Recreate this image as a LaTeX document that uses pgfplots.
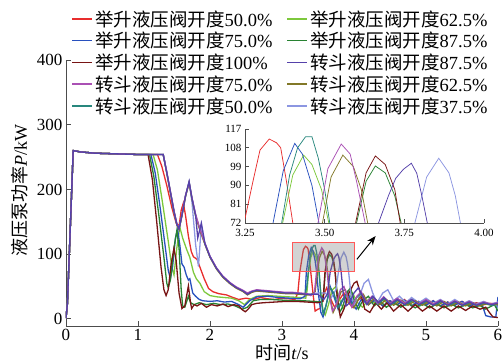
\documentclass[border=0pt]{standalone}
\usepackage{pgfplots}
\pgfplotsset{compat=1.18}
\usepackage{pgfplotstable}
\usepackage{fontspec}
\setmainfont{Liberation Serif}
\newfontfamily\cjk{Noto Sans CJK SC}
\usetikzlibrary{arrows.meta}

\definecolor{cRed}{RGB}{232,45,45}
\definecolor{cLGreen}{RGB}{125,200,60}
\definecolor{cBlue}{RGB}{40,80,190}
\definecolor{cDGreen}{RGB}{40,130,50}
\definecolor{cDRed}{RGB}{120,20,20}
\definecolor{cIndigo}{RGB}{85,65,170}
\definecolor{cMag}{RGB}{170,80,180}
\definecolor{cOlive}{RGB}{130,120,40}
\definecolor{cTeal}{RGB}{40,135,125}
\definecolor{cLav}{RGB}{140,150,225}

\pgfplotstableread{
x y
0 1
0.02 24
0.10 260
0.20 258
0.40 256
0.70 255
1.00 254
1.27 254
1.33 236
1.40 206
1.47 172
1.53 148
1.57 143
1.60 168
1.63 179
1.66 160
1.70 128
1.74 104
1.77 96
1.82 92
1.86 80
1.92 62
1.98 47
2.04 42
2.12 39
2.23 37
2.32 33
2.40 30
2.50 32
2.60 30
2.70 33
2.80 31
2.90 30
3.00 32
3.10 31
3.18 30
3.22 40
3.247 72
3.275 92
3.297 106.9
3.326 112.2
3.349 110.4
3.362 108
3.38 92
3.40 72
3.43 40
3.46 12
3.50 15
3.53 16
3.57 35
3.62 48
3.68 30
3.73 18
3.80 30
3.86 40
3.92 25
3.98 18
4.05 28
4.12 35
4.20 22
4.30 30
4.40 20
4.50 28
4.60 22
4.70 30
4.80 20
4.90 27
5.00 22
5.10 28
5.20 20
5.30 26
5.40 22
5.50 27
5.60 21
5.70 25
5.80 22
5.90 24
6.00 22
}\tRed

\pgfplotstableread{
x y
0 1
0.02 24
0.10 260
0.20 258
0.40 256
0.70 255
1.00 254
1.21 254
1.27 230
1.34 180
1.42 120
1.47 80
1.50 68
1.54 110
1.58 142
1.62 125
1.68 106
1.72 95
1.77 72
1.81 62
1.86 55
1.92 42
2.00 36
2.10 34
2.20 33
2.30 32
2.40 28
2.48 22
2.55 30
2.65 35
2.80 36
2.95 35
3.10 34
3.25 33
3.33 32
3.35 45
3.368 72
3.40 95
3.434 104.5
3.46 100
3.49 88
3.513 72
3.54 40
3.57 12
3.60 6
3.64 20
3.70 45
3.75 50
3.80 30
3.85 15
3.92 30
3.98 40
4.05 25
4.12 18
4.20 30
4.30 24
4.40 30
4.50 20
4.60 28
4.70 22
4.80 27
4.90 19
5.00 26
5.10 21
5.20 27
5.30 20
5.40 26
5.50 21
5.60 25
5.70 20
5.80 24
5.90 21
6.00 23
}\tLGreen

\pgfplotstableread{
x y
0 1
0.02 24
0.10 260
0.20 258
0.40 256
0.70 255
1.00 254
1.18 254
1.24 225
1.31 170
1.38 110
1.42 75
1.45 62
1.48 80
1.52 125
1.55 138
1.58 115
1.61 85
1.64 80
1.67 68
1.70 60
1.72 62
1.76 40
1.80 35
1.85 30
1.90 28
2.00 27
2.10 28
2.20 26
2.30 27
2.40 22
2.46 18
2.55 28
2.65 34
2.80 35
2.95 33
3.10 32
3.25 31
3.32 35
3.338 72
3.37 97
3.406 110.1
3.43 105
3.46 90
3.482 72
3.51 35
3.54 10
3.57 3
3.61 20
3.67 50
3.72 35
3.78 15
3.85 30
3.91 42
3.97 25
4.03 15
4.10 30
4.20 22
4.30 30
4.40 20
4.50 28
4.60 22
4.70 29
4.80 20
4.90 27
5.00 21
5.10 28
5.20 20
5.30 26
5.40 21
5.50 27
5.60 20
5.70 24
5.78 22
5.83 5
5.90 3
5.97 3
6.00 34
}\tBlue

\pgfplotstableread{
x y
0 1
0.02 24
0.10 260
0.20 258
0.40 256
0.70 255
1.00 254
1.16 254
1.22 220
1.29 160
1.36 95
1.40 55
1.42 48
1.45 60
1.50 110
1.54 137
1.57 110
1.60 45
1.62 20
1.65 18
1.70 35
1.73 25
1.78 22
1.85 25
1.95 22
2.05 24
2.15 22
2.25 23
2.35 20
2.45 15
2.52 18
2.60 28
2.70 30
2.85 30
3.00 29
3.15 28
3.30 28
3.45 27
3.55 26
3.58 40
3.60 72
3.63 92
3.659 99.3
3.69 96
3.72 85
3.74 72
3.77 30
3.80 10
3.84 18
3.90 40
3.95 48
4.00 30
4.06 15
4.12 28
4.20 35
4.28 20
4.36 28
4.45 18
4.55 26
4.65 18
4.75 25
4.85 17
4.95 24
5.05 17
5.15 23
5.25 17
5.35 23
5.45 17
5.55 22
5.65 17
5.75 21
5.82 15
5.88 18
5.95 22
6.00 12
}\tDGreen

\pgfplotstableread{
x y
0 1
0.02 24
0.10 260
0.20 258
0.40 256
0.70 255
1.00 254
1.14 254
1.20 215
1.26 150
1.32 80
1.36 45
1.39 36
1.42 45
1.46 85
1.50 109
1.53 90
1.57 40
1.61 16
1.65 20
1.70 51
1.73 25
1.745 16
1.78 22
1.82 20
1.88 24
1.95 18
2.02 22
2.10 20
2.18 23
2.25 19
2.33 22
2.40 20
2.45 14
2.49 11
2.53 15
2.58 22
2.65 24
2.75 25
2.90 26
3.05 27
3.20 27
3.35 26
3.50 25
3.57 27
3.597 72
3.63 96
3.659 104.1
3.69 100
3.72 88
3.737 72
3.77 30
3.81 3
3.86 15
3.93 40
4.00 55
4.04 58
4.09 40
4.15 15
4.22 10
4.30 25
4.38 15
4.46 25
4.55 12
4.65 22
4.75 12
4.85 22
4.95 12
5.05 20
5.15 12
5.25 20
5.35 12
5.45 20
5.55 13
5.65 20
5.75 15
5.83 18
5.88 10
5.93 3
6.00 2
}\tDRed

\pgfplotstableread{
x y
0 1
0.02 24
0.10 260
0.20 258
0.40 256
0.70 255
1.00 254
1.35 254
1.40 226
1.45 196
1.50 166
1.54 146
1.57 139
1.61 160
1.66 190
1.71 212
1.75 186
1.80 160
1.83 125
1.88 148
1.93 116
2.00 96
2.09 78
2.18 65
2.28 55
2.37 48
2.46 43
2.52 38
2.58 42
2.65 44
2.75 43
2.85 42
2.95 41
3.05 40
3.15 40
3.25 39
3.35 38
3.50 38
3.58 30
3.63 38
3.669 72
3.70 85
3.723 93.4
3.747 97.7
3.772 100.6
3.789 95.8
3.805 85
3.822 72
3.85 40
3.89 20
3.94 25
4.00 40
4.06 48
4.12 35
4.18 22
4.26 35
4.34 25
4.42 33
4.50 22
4.60 30
4.70 22
4.80 30
4.90 22
5.00 28
5.10 21
5.20 28
5.30 21
5.40 27
5.50 21
5.60 26
5.70 21
5.80 25
5.90 22
6.00 24
}\tIndigo

\pgfplotstableread{
x y
0 1
0.02 24
0.10 260
0.20 258
0.40 256
0.70 255
1.00 254
1.35 254
1.40 227
1.45 197
1.50 167
1.54 147
1.57 140
1.61 161
1.66 191
1.71 211
1.75 187
1.80 162
1.86 139
1.93 117
2.00 97
2.09 79
2.18 66
2.28 56
2.37 49
2.46 44
2.52 40
2.58 43
2.65 45
2.75 44
2.85 43
2.95 42
3.05 41
3.15 41
3.25 40
3.35 39
3.40 36
3.45 40
3.479 72
3.51 98
3.552 109.8
3.58 105
3.60 92
3.627 72
3.66 35
3.70 12
3.75 20
3.81 45
3.86 50
3.92 30
3.97 18
4.04 35
4.10 42
4.17 25
4.25 35
4.33 24
4.41 34
4.50 24
4.60 32
4.70 24
4.80 30
4.90 23
5.00 30
5.10 23
5.20 29
5.30 22
5.40 28
5.50 22
5.60 27
5.70 22
5.80 26
5.90 23
6.00 25
}\tMag

\pgfplotstableread{
x y
0 1
0.02 24
0.10 260
0.20 258
0.40 256
0.70 255
1.00 254
1.35 254
1.40 225
1.45 195
1.50 165
1.54 145
1.57 138
1.61 159
1.66 189
1.71 210
1.75 185
1.80 159
1.86 137
1.93 115
2.00 95
2.09 77
2.18 64
2.28 54
2.37 47
2.46 42
2.52 37
2.58 41
2.65 43
2.75 42
2.85 41
2.95 40
3.05 39
3.15 39
3.25 38
3.35 37
3.40 37
3.46 42
3.493 72
3.52 94
3.557 104.5
3.59 99
3.615 88
3.635 72
3.67 32
3.71 10
3.76 22
3.82 42
3.88 45
3.94 25
4.00 17
4.07 32
4.13 38
4.20 22
4.28 32
4.36 22
4.45 30
4.55 21
4.65 29
4.75 21
4.85 28
4.95 21
5.05 27
5.15 20
5.25 27
5.35 20
5.45 26
5.55 20
5.65 25
5.75 20
5.85 24
6.00 22
}\tOlive

\pgfplotstableread{
x y
0 1
0.02 24
0.10 260
0.20 258
0.40 256
0.70 255
1.00 254
1.35 254
1.40 226
1.45 196
1.50 166
1.54 146
1.57 139
1.61 160
1.66 190
1.71 211
1.75 186
1.80 160
1.86 138
1.93 116
2.00 96
2.09 78
2.18 65
2.28 55
2.37 48
2.46 43
2.52 39
2.58 42
2.65 44
2.75 43
2.85 42
2.95 41
3.05 40
3.15 40
3.25 39
3.32 38
3.345 50
3.365 72
3.39 95
3.415 108
3.44 113.3
3.46 113.3
3.48 103
3.50 88
3.516 72
3.54 35
3.57 8
3.61 20
3.67 48
3.72 40
3.78 18
3.84 30
3.90 38
3.96 22
4.03 32
4.10 40
4.17 25
4.25 33
4.33 22
4.42 31
4.52 22
4.62 30
4.72 21
4.82 29
4.92 21
5.02 28
5.12 21
5.22 27
5.32 20
5.42 26
5.52 20
5.62 25
5.72 20
5.82 24
5.92 21
6.00 23
}\tTeal

\pgfplotstableread{
x y
0 1
0.02 24
0.10 260
0.20 258
0.40 256
0.70 255
1.00 254
1.35 254
1.40 226
1.45 196
1.50 166
1.54 146
1.57 139
1.61 160
1.66 190
1.71 212
1.75 180
1.80 115
1.84 81
1.88 145
1.93 116
2.00 96
2.09 78
2.18 65
2.28 55
2.37 48
2.46 43
2.52 38
2.58 42
2.65 44
2.75 43
2.85 42
2.95 41
3.05 40
3.15 40
3.25 39
3.35 38
3.45 39
3.52 40
3.60 40
3.68 32
3.75 45
3.783 72
3.82 94
3.858 103
3.89 96
3.91 85
3.926 72
3.96 35
4.00 22
4.06 30
4.14 55
4.20 61
4.26 40
4.32 25
4.40 40
4.47 45
4.55 28
4.63 35
4.72 25
4.80 33
4.90 25
5.00 32
5.10 24
5.20 30
5.30 23
5.40 30
5.50 23
5.60 28
5.70 23
5.80 27
5.90 23
6.00 26
}\tLav

\begin{document}
\begin{tikzpicture}
\begin{axis}[
  at={(66pt,38pt)}, anchor=south west,
  scale only axis, width=432pt, height=266pt,
  xmin=0, xmax=6, ymin=-11, ymax=400,
  axis lines*=left,
  axis line style={line width=0.9pt, black!70},
  xtick={0,1,...,6}, ytick={0,100,...,400},
  tick align=inside,
  major tick length=5pt,
  tick style={line width=0.9pt, black!70},
  /pgf/number format/assume math mode=true,
  ticklabel style={font=\fontsize{17}{17}\selectfont},
  xlabel={{\cjk 时间}\textit{t}/s},
  ylabel={{\cjk 液压泵功率}\textit{P}/kW},
  label style={font=\fontsize{18}{18}\selectfont},
  xlabel style={at={(axis description cs:0.5,-0.1015)}, anchor=center},
  ylabel style={at={(axis description cs:-0.1065,0.511)}, anchor=center},
  every axis plot/.append style={line width=1.3pt},
]
\addplot[color=cRed] table {\tRed};
\addplot[color=cLGreen] table {\tLGreen};
\addplot[color=cBlue] table {\tBlue};
\addplot[color=cDGreen] table {\tDGreen};
\addplot[color=cDRed] table {\tDRed};
\addplot[color=cLav] table {\tLav};
\addplot[color=cTeal] table {\tTeal};
\addplot[color=cOlive] table {\tOlive};
\addplot[color=cMag] table {\tMag};
\addplot[color=cIndigo] table {\tIndigo};

\draw[draw=red!65, line width=0.8pt, fill=gray, fill opacity=0.35]
  (axis cs:3.15,74) rectangle (axis cs:4.0,118);
\draw[-{Stealth[length=9pt,width=7pt]}, line width=1pt, black]
  (axis cs:4.04,92) -- (axis cs:4.30,128);
\end{axis}

\begin{axis}[
  at={(245pt,141pt)}, anchor=south west,
  scale only axis, width=239pt, height=94pt,
  xmin=3.25, xmax=4, ymin=72, ymax=117,
  axis lines*=left,
  axis line style={line width=0.7pt, black!70},
  xtick={3.25,3.5,3.75,4}, ytick={72,81,...,117},
  tick align=inside,
  major tick length=3.5pt,
  tick style={line width=0.7pt, black!70},
  /pgf/number format/assume math mode=true,
  ticklabel style={font=\fontsize{11}{11}\selectfont},
  xticklabel style={yshift=-3pt, /pgf/number format/.cd, fixed, fixed zerofill, precision=2},
  every axis plot/.append style={line width=0.75pt},
]
\addplot[color=cRed] table {\tRed};
\addplot[color=cLGreen] table {\tLGreen};
\addplot[color=cBlue] table {\tBlue};
\addplot[color=cDGreen] table {\tDGreen};
\addplot[color=cDRed] table {\tDRed};
\addplot[color=cLav] table {\tLav};
\addplot[color=cTeal] table {\tTeal};
\addplot[color=cOlive] table {\tOlive};
\addplot[color=cMag] table {\tMag};
\addplot[color=cIndigo] table {\tIndigo};
\end{axis}

% legend (two columns, five rows)
\begin{scope}[every node/.style={anchor=west, inner sep=0pt, font=\fontsize{18.5}{18.5}\selectfont}]
\draw[cRed, line width=1.5pt] (72pt,345pt) -- (92pt,345pt);
\node at (95pt,345pt) {{\cjk 举升液压阀开度}50.0\%};
\draw[cLGreen, line width=1.5pt] (287pt,345pt) -- (307pt,345pt);
\node at (310pt,345pt) {{\cjk 举升液压阀开度}62.5\%};
\draw[cBlue, line width=1.5pt] (72pt,323.3pt) -- (92pt,323.3pt);
\node at (95pt,323.3pt) {{\cjk 举升液压阀开度}75.0\%};
\draw[cDGreen, line width=1.5pt] (287pt,323.3pt) -- (307pt,323.3pt);
\node at (310pt,323.3pt) {{\cjk 举升液压阀开度}87.5\%};
\draw[cDRed, line width=1.5pt] (72pt,301.5pt) -- (92pt,301.5pt);
\node at (95pt,301.5pt) {{\cjk 举升液压阀开度}100\%};
\draw[cIndigo, line width=1.5pt] (287pt,301.5pt) -- (307pt,301.5pt);
\node at (310pt,301.5pt) {{\cjk 转斗液压阀开度}87.5\%};
\draw[cMag, line width=1.5pt] (72pt,279.8pt) -- (92pt,279.8pt);
\node at (95pt,279.8pt) {{\cjk 转斗液压阀开度}75.0\%};
\draw[cOlive, line width=1.5pt] (287pt,279.8pt) -- (307pt,279.8pt);
\node at (310pt,279.8pt) {{\cjk 转斗液压阀开度}62.5\%};
\draw[cTeal, line width=1.5pt] (72pt,258pt) -- (92pt,258pt);
\node at (95pt,258pt) {{\cjk 转斗液压阀开度}50.0\%};
\draw[cLav, line width=1.5pt] (287pt,258pt) -- (307pt,258pt);
\node at (310pt,258pt) {{\cjk 转斗液压阀开度}37.5\%};
\end{scope}

\pgfresetboundingbox
\useasboundingbox (0,0) rectangle (504pt,364pt);
\end{tikzpicture}
\end{document}
